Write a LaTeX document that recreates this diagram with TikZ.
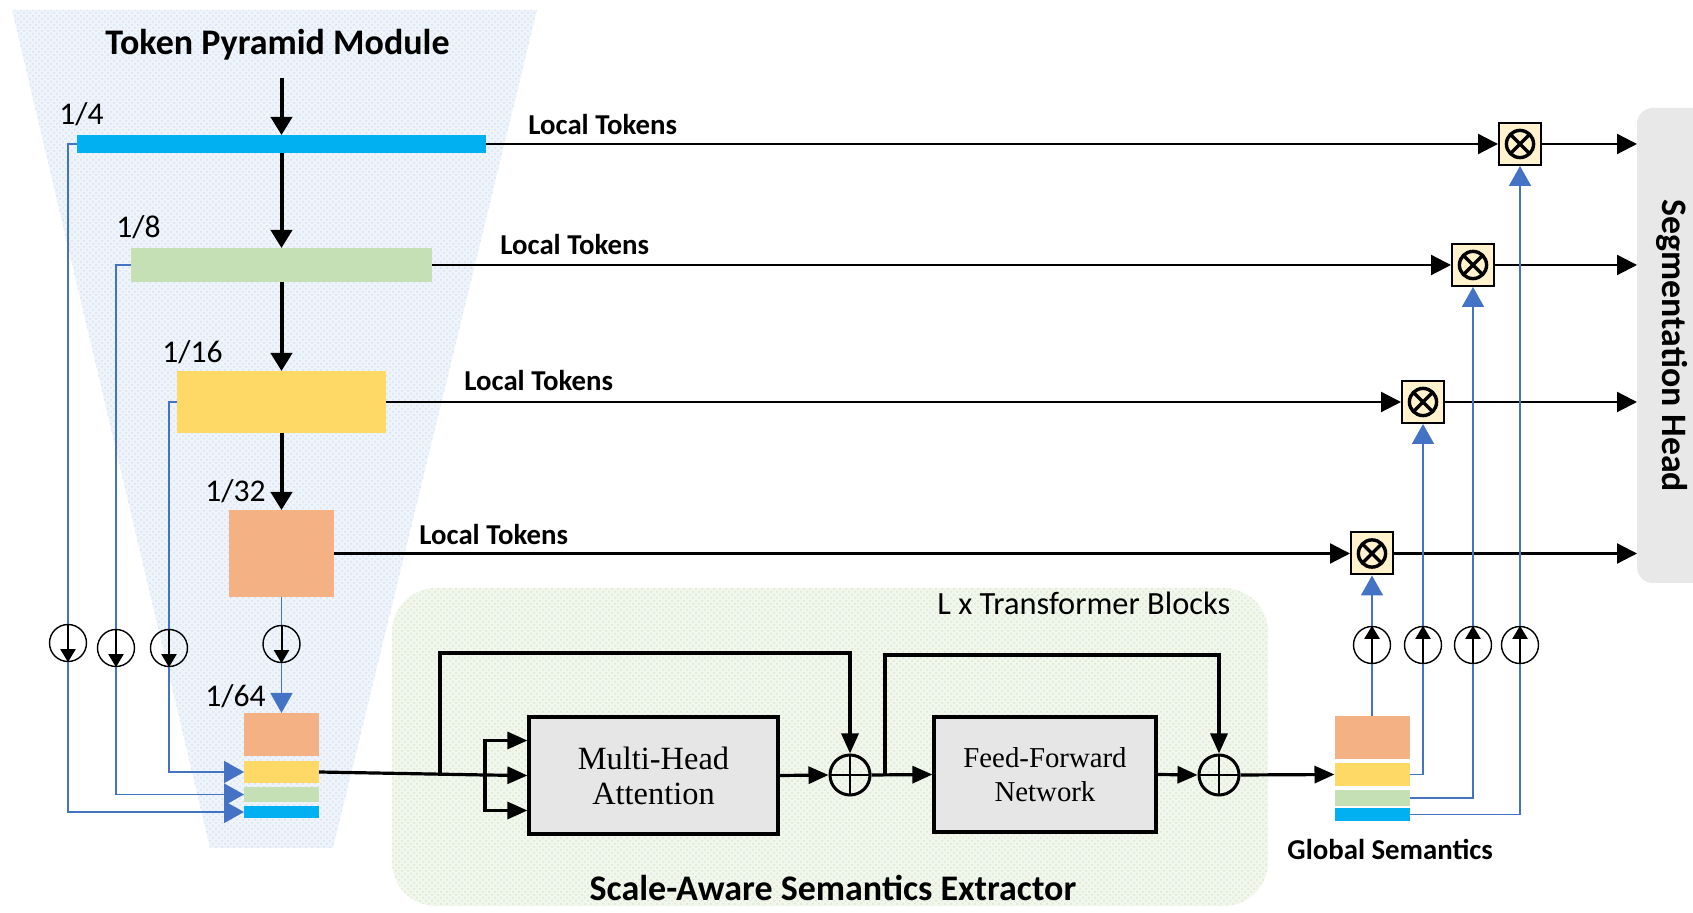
\documentclass[tikz,border=0pt]{standalone}
\usepackage{fontspec}
\setmainfont{Carlito}
\newfontfamily\serifblk{Liberation Serif}
\usetikzlibrary{arrows.meta,calc,fit,patterns}

\definecolor{tokblue}{HTML}{00B0F0}
\definecolor{tokgreen}{HTML}{C5E0B4}
\definecolor{tokyellow}{HTML}{FFD966}
\definecolor{tokorange}{HTML}{F4B183}
\definecolor{linkblue}{HTML}{4472C4}
\definecolor{mulfill}{HTML}{FFF2CC}
\definecolor{blkgray}{HTML}{E7E6E6}
\definecolor{headgray}{HTML}{E8E8E8}
\definecolor{pyrfill}{HTML}{EFF4FA}
\definecolor{pyrdot}{HTML}{D3E1F2}
\definecolor{sasefill}{HTML}{F2F7EE}
\definecolor{sasedot}{HTML}{D9E7CD}

\begin{document}
\begin{tikzpicture}[x=0.5pt,y=-0.5pt,
  bar/.style={inner sep=0pt, outer sep=0pt, draw=none},
  toklbl/.style={font=\fontsize{14.4}{16}\selectfont\bfseries, inner sep=0pt, anchor=base west},
  scl/.style={font=\fontsize{15.8}{18}\selectfont, inner sep=0pt, anchor=base west},
  flow/.style={line width=2pt, -{Triangle[length=9pt,width=10.5pt]}},
  lt/.style={line width=1.1pt, -{Triangle[length=10pt,width=10pt]}},
  lnk/.style={draw=linkblue, line width=0.9pt},
  lnkarr/.style={lnk, -{Triangle[length=10pt,width=11pt]}, color=linkblue},
  main/.style={line width=1.6pt},
  mainarr/.style={main, -{Triangle[length=10pt,width=8.5pt]}},
  ring/.style={circle, draw, line width=0.7pt, minimum size=18.5pt, inner sep=0pt},
  tiny/.style={line width=1pt, -{Triangle[length=6.5pt,width=7.5pt]}},
  plus/.style={circle, draw, line width=1.5pt, minimum size=20pt, inner sep=0pt,
    path picture={\draw[line width=1.2pt]
      (path picture bounding box.north) -- (path picture bounding box.south)
      (path picture bounding box.west) -- (path picture bounding box.east);}},
  mul/.style={draw, line width=1pt, fill=mulfill, minimum size=21pt, inner sep=0pt,
    path picture={
      \draw[line width=1.7pt] (path picture bounding box.center) circle (6.8pt);
      \draw[line width=1.7pt]
        ($(path picture bounding box.center)+(45:6.8pt)$) -- ($(path picture bounding box.center)+(225:6.8pt)$)
        ($(path picture bounding box.center)+(135:6.8pt)$) -- ($(path picture bounding box.center)+(315:6.8pt)$);}},
  blk/.style={draw, line width=1.6pt, fill=blkgray, align=center, inner sep=0pt},
]
\useasboundingbox (0,0) rectangle (1693,913);

% backgrounds of the two modules
\path[fill=pyrfill] (12,10) -- (537,10) -- (333,848) -- (210,848) -- cycle;
\path[pattern=crosshatch dots, pattern color=pyrdot] (12,10) -- (537,10) -- (333,848) -- (210,848) -- cycle;
\path[fill=sasefill, rounded corners=22pt] (392,588) rectangle (1268,906);
\path[pattern=crosshatch dots, pattern color=sasedot, rounded corners=22pt] (392,588) rectangle (1268,906);

% segmentation head
\node[bar, fill=headgray, rounded corners=8pt, fit={(1637,108) (1725,583)}] (seg) {};
\node[font=\fontsize{17.9}{20}\selectfont\bfseries, rotate=-90] (segtxt) at (1672,346) {Segmentation Head};

% token pyramid
\node[font=\fontsize{18}{20}\selectfont\bfseries, anchor=base, inner sep=0pt] (title) at (277.5,55) {Token Pyramid Module};
\coordinate (src) at (281.5,78);
\node[bar, fill=tokblue,   fit={(77,135) (486,153)}]  (b4)  {};
\node[bar, fill=tokgreen,  fit={(131,248) (432,282)}] (b8)  {};
\node[bar, fill=tokyellow, fit={(177,371) (386,433)}] (b16) {};
\node[bar, fill=tokorange, fit={(229,510) (334,597)}] (b32) {};
\node[scl] (l4)  at (59,125)  {1/4};
\node[scl] (l8)  at (116,238) {1/8};
\node[scl] (l16) at (162,363) {1/16};
\node[scl] (l32) at (205,502) {1/32};
\node[scl] (l64) at (205,707) {1/64};
\draw[flow] (src) -- (b4);
\draw[flow] (b4) -- (b8);
\draw[flow] (b8) -- (b16);
\draw[flow] (b16) -- (b32);

% pooled stack
\node[bar, fill=tokorange, fit={(244,713) (319,756)}] (so) {};
\node[bar, fill=tokyellow, fit={(244,761) (319,783)}] (sy) {};
\node[bar, fill=tokgreen,  fit={(244,787) (319,802)}] (sg) {};
\node[bar, fill=tokblue,   fit={(244,806) (319,818)}] (sb) {};

% pooling rings
\node[ring] (c1) at (68,643)    {};
\node[ring] (c2) at (116,648)   {};
\node[ring] (c3) at (169,648)   {};
\node[ring] (c4) at (281.5,644) {};
\draw[lnk] (b4.west) -| (c1.north);
\draw[lnkarr] (c1.south) |- (sb.west);
\draw[lnk] (b8.west) -| (c2.north);
\draw[lnkarr] (c2.south) |- (sg.west);
\draw[lnk] (b16.west) -| (c3.north);
\draw[lnkarr] (c3.south) |- (sy.west);
\draw[lnk] (b32.south) -- (c4.north);
\draw[lnkarr] (c4.south) -- (so.north);
\foreach \c in {c1,c2,c3,c4} \draw[tiny] (\c.north) -- (\c.south);

% transformer blocks
\node[blk, minimum width=124.5pt, minimum height=58.5pt,
      font=\serifblk\fontsize{16.2}{17.5}\selectfont] (mha) at (653.5,775.5) {Multi-Head\\Attention};
\node[blk, minimum width=111pt, minimum height=57.5pt,
      font=\serifblk\fontsize{14.4}{17}\selectfont] (ffn) at (1045,774.5) {Feed-Forward\\Network};
\node[plus] (p1) at (850,775) {};
\node[plus] (p2) at (1219,775) {};
\coordinate (j0) at (440,775);
\coordinate (j1) at (485,775);
\coordinate (t1) at (440,653);
\coordinate (j2) at (885,775);
\coordinate (t2) at (885,655);
\draw[main] (sy.east) -- (j1);
\draw[mainarr] (j0) -- (t1) -| (p1.north);
\draw[mainarr] (j1) |- ($(mha.west)+(0,-35)$);
\draw[mainarr] (j1) -- (mha.west);
\draw[mainarr] (j1) |- ($(mha.west)+(0,35)$);
\draw[mainarr] (mha.east) -- (p1.west);
\draw[mainarr] (p1.east) -- (ffn.west);
\draw[mainarr] (j2) -- (t2) -| (p2.north);
\draw[mainarr] (ffn.east) -- (p2.west);
\node[scl] (lxt) at (937,615) {\fontsize{16.2}{18}\selectfont L x Transformer Blocks};
\node[font=\fontsize{18}{20}\selectfont\bfseries, anchor=base, inner sep=0pt] (sase) at (833,901) {Scale-Aware Semantics Extractor};

% global semantics
\node[bar, fill=tokorange, fit={(1334.5,716) (1409.5,759)}] (go) {};
\node[bar, fill=tokyellow, fit={(1334.5,763) (1409.5,786)}] (gy) {};
\node[bar, fill=tokgreen,  fit={(1334.5,790) (1409.5,806)}] (gg) {};
\node[bar, fill=tokblue,   fit={(1334.5,808) (1409.5,821)}] (gb) {};
\draw[mainarr] (p2.east) -- (gy.west);
\node[toklbl] (gsem) at (1287,860) {Global Semantics};

% injection points
\node[mul] (ot1) at (1520,144)   {};
\node[mul] (ot2) at (1473,265)   {};
\node[mul] (ot3) at (1423,402)   {};
\node[mul] (ot4) at (1372,553.5) {};
\draw[lt] (b4.east)  -- (ot1.west);
\draw[lt] (b8.east)  -- (ot2.west);
\draw[lt] (b16.east) -- (ot3.west);
\draw[lt] (b32.east) -- (ot4.west);
\node[toklbl] (lt1) at (528,135) {Local Tokens};
\node[toklbl] (lt2) at (500,255) {Local Tokens};
\node[toklbl] (lt3) at (464,391) {Local Tokens};
\node[toklbl] (lt4) at (419,545) {Local Tokens};
\foreach \o in {ot1,ot2,ot3,ot4} \draw[lt] (\o.east) -- (\o -| seg.west);

% upsampling rings
\node[ring] (u1) at (1372,645) {};
\node[ring] (u2) at (1423,645) {};
\node[ring] (u3) at (1473,645) {};
\node[ring] (u4) at (1520,645) {};
\draw[lnk] (go.north) -- (u1.south);
\draw[lnkarr] (u1.north) -- (ot4.south);
\draw[lnk] (gy.east) -| (u2.south);
\draw[lnkarr] (u2.north) -- (ot3.south);
\draw[lnk] (gg.east) -| (u3.south);
\draw[lnkarr] (u3.north) -- (ot2.south);
\draw[lnk] (gb.east) -| (u4.south);
\draw[lnkarr] (u4.north) -- (ot1.south);
\foreach \u in {u1,u2,u3,u4} \draw[tiny] (\u.south) -- (\u.north);
\end{tikzpicture}
\end{document}
